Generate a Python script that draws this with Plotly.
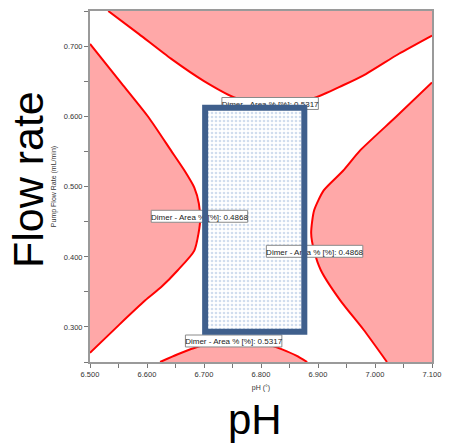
import plotly.graph_objects as go

# Axis ranges (pH, flow rate)
XR = [6.5, 7.1]
YR = [0.25, 0.751]

# Contour curves (pH, flow rate)
top_x = [6.532, 6.586, 6.642, 6.700, 6.756, 6.816, 6.893, 6.944, 6.984, 7.042, 7.100]
top_y = [0.751, 0.718, 0.683, 0.651, 0.627, 0.622, 0.627, 0.645, 0.661, 0.690, 0.716]

left_x = [6.500, 6.556, 6.603, 6.642, 6.666, 6.683, 6.691, 6.693, 6.683, 6.654, 6.625, 6.597, 6.551, 6.500]
left_y = [0.704, 0.647, 0.599, 0.552, 0.523, 0.499, 0.476, 0.449, 0.409, 0.381, 0.357, 0.338, 0.303, 0.263]

right_x = [7.100, 7.037, 6.974, 6.944, 6.910, 6.893, 6.888, 6.893, 6.905, 6.939, 6.980, 7.021]
right_y = [0.649, 0.600, 0.552, 0.523, 0.495, 0.466, 0.434, 0.409, 0.381, 0.338, 0.296, 0.250]

bottom_x = [6.623, 6.654, 6.683, 6.714, 6.751, 6.787, 6.813, 6.837, 6.862, 6.881]
bottom_y = [0.250, 0.261, 0.270, 0.277, 0.281, 0.280, 0.275, 0.268, 0.259, 0.250]

# Design-space rectangle
rect_x = [6.702, 6.876]
rect_y = [0.293, 0.613]

# Contour labels
label_text = ["Dimer - Area % [%]: 0.5317", "Dimer - Area % [%]: 0.4868",
              "Dimer - Area % [%]: 0.4868", "Dimer - Area % [%]: 0.5317"]
label_x = [6.816, 6.692, 6.894, 6.752]
label_y = [0.619, 0.458, 0.408, 0.280]

PINK = "#ffa8a8"
RED = "#ff0000"
FONT = "Liberation Sans, Arial, sans-serif"

# plot area size in pixels (for label box size in data units)
PLOT_W, PLOT_H = 351, 352
BOX_W_PX, BOX_H_PX = 99, 12
box_hw = BOX_W_PX / 2 * (XR[1] - XR[0]) / PLOT_W
box_hh = BOX_H_PX / 2 * (YR[1] - YR[0]) / PLOT_H

fig = go.Figure()

regions = [
    (top_x + [XR[1]], top_y + [YR[1]]),
    (left_x, left_y),
    (right_x + [XR[1]], right_y + [YR[0]]),
    (bottom_x, bottom_y),
]
for rx, ry in regions:
    fig.add_trace(go.Scatter(x=rx, y=ry, fill="toself", fillcolor=PINK,
                             mode="none", hoverinfo="skip", showlegend=False))

for cx, cy in [(top_x, top_y), (left_x, left_y), (right_x, right_y), (bottom_x, bottom_y)]:
    fig.add_trace(go.Scatter(x=cx, y=cy, mode="lines",
                             line=dict(color=RED, width=2, shape="spline", smoothing=0.6),
                             hoverinfo="skip", showlegend=False))

# dotted fill of rectangle
fig.add_trace(go.Scatter(
    x=[rect_x[0], rect_x[1], rect_x[1], rect_x[0], rect_x[0]],
    y=[rect_y[0], rect_y[0], rect_y[1], rect_y[1], rect_y[0]],
    fill="toself", mode="none", fillcolor="rgba(255,255,255,0)",
    fillpattern=dict(shape=".", fgcolor="#a3bbde", bgcolor="rgba(255,255,255,0)",
                     size=4, solidity=0.35),
    hoverinfo="skip", showlegend=False))

shapes = []
for t, lx, ly in zip(label_text, label_x, label_y):
    shapes.append(dict(
        type="rect", xref="x", yref="y",
        x0=lx - box_hw, x1=lx + box_hw, y0=ly - box_hh, y1=ly + box_hh,
        fillcolor="white", line=dict(color="#8a8a8a", width=1), layer="above",
        label=dict(text=t, font=dict(size=8, color="#222222", family=FONT),
                   textposition="middle center")))
shapes.append(dict(
    type="rect", xref="x", yref="y", x0=rect_x[0], x1=rect_x[1], y0=rect_y[0], y1=rect_y[1],
    line=dict(color="#3f5f8c", width=6), fillcolor="rgba(0,0,0,0)", layer="above"))

fig.update_layout(
    width=450, height=445,
    margin=dict(l=90, r=9, t=10, b=83),
    paper_bgcolor="white", plot_bgcolor="white",
    font=dict(family=FONT, color="#333333"),
    shapes=shapes,
    xaxis=dict(range=XR, dtick=0.1, tick0=6.5, tickformat=".3f",
               showgrid=False, zeroline=False,
               showline=True, linecolor="#9a9a9a", linewidth=2, mirror=True,
               ticks="outside", ticklen=4, tickcolor="#777777", tickwidth=1,
               minor=dict(dtick=0.05, ticks="outside", ticklen=4, tickcolor="#777777"),
               tickfont=dict(size=7.5, color="#333333"),
               title=dict(text="pH (°)", font=dict(size=7, color="#333333"), standoff=7)),
    yaxis=dict(range=YR, dtick=0.1, tick0=0.3, tickformat=".3f",
               showgrid=False, zeroline=False,
               showline=True, linecolor="#9a9a9a", linewidth=2, mirror=True,
               ticks="outside", ticklen=4, tickcolor="#777777", tickwidth=1,
               minor=dict(dtick=0.05, ticks="outside", ticklen=4, tickcolor="#777777"),
               tickfont=dict(size=7.5, color="#333333"),
               title=dict(text="Pump Flow Rate (mL/min)", font=dict(size=7, color="#333333"), standoff=6)),
    annotations=[
        dict(text="Flow rate", xref="paper", yref="paper", x=-0.1795, y=0.52,
             textangle=-90, showarrow=False, xanchor="center", yanchor="middle",
             font=dict(size=43, color="black", family=FONT)),
        dict(text="pH", xref="paper", yref="paper", x=0.4815, y=-0.165,
             showarrow=False, xanchor="center", yanchor="middle",
             font=dict(size=42, color="black", family=FONT)),
    ],
)

fig.write_html("out.html")
